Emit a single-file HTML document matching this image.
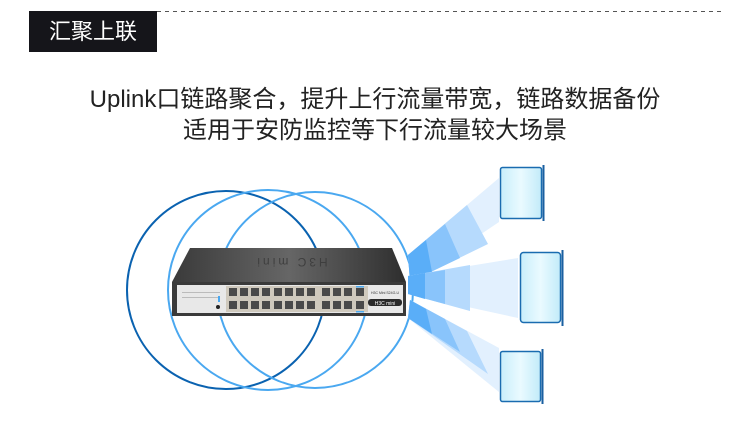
<!DOCTYPE html>
<html><head><meta charset="utf-8"><style>
body{margin:0;width:750px;height:442px;background:#fff;overflow:hidden;position:relative;font-family:"Liberation Sans","Noto Sans CJK SC",sans-serif}
.t{position:absolute;left:0;width:750px;text-align:center;font-size:24px;color:#222;line-height:30px}
</style></head><body>
<svg width="750" height="442" style="position:absolute;left:0;top:0">
<defs>
<linearGradient id="top" x1="0" y1="0" x2="1" y2="0"><stop offset="0" stop-color="#3a3a3a"/><stop offset="0.5" stop-color="#666"/><stop offset="1" stop-color="#2e2e2e"/></linearGradient>
<linearGradient id="scr" x1="0" y1="0" x2="1" y2="0"><stop offset="0" stop-color="#c8eefb"/><stop offset="0.5" stop-color="#eafaff"/><stop offset="1" stop-color="#c2ebf9"/></linearGradient>
</defs>
<rect x="29" y="11" width="128" height="41" fill="#15151a"/>
<line x1="157" y1="11.5" x2="722" y2="11.5" stroke="#555" stroke-dasharray="4,4"/>
<circle cx="226" cy="290" r="99" fill="none" stroke="#0a62b0" stroke-width="2"/>
<circle cx="268" cy="290" r="100" fill="none" stroke="#4aa8f0" stroke-width="2"/>
<circle cx="315" cy="290" r="98" fill="none" stroke="#4aa8f0" stroke-width="2"/>
<g>
<polygon points="408,255 499,178 499,222 410,282" fill="#e2f0fe"/>
<polygon points="408,255 467,205 488,244 410,282" fill="#b6dafd"/>
<polygon points="408,255 445,224 460,258 410,282" fill="#89c4fb"/>
<polygon points="408,255 426,240 432,272 410,282" fill="#5aaef8"/>
<polygon points="408,276 518,258 518,318 408,294" fill="#e2f0fe"/>
<polygon points="408,276 470,265 470,311 408,294" fill="#b6dafd"/>
<polygon points="408,276 445,270 445,304 408,294" fill="#89c4fb"/>
<polygon points="408,276 425,273 425,299 408,294" fill="#5aaef8"/>
<polygon points="410,300 499,348 499,392 408,318" fill="#e2f0fe"/>
<polygon points="410,300 467,331 488,374 408,318" fill="#b6dafd"/>
<polygon points="410,300 445,319 460,352 408,318" fill="#89c4fb"/>
<polygon points="410,300 426,309 432,334 408,318" fill="#5aaef8"/>
</g>
<rect x="500.5" y="167.5" width="41" height="51" rx="2" fill="url(#scr)" stroke="#1a6cb0" stroke-width="1.5"/>
<line x1="543.5" y1="165" x2="543.5" y2="221" stroke="#1a5fa0" stroke-width="2"/>
<rect x="520.5" y="252.5" width="40" height="70" rx="3" fill="url(#scr)" stroke="#1a6cb0" stroke-width="1.5"/>
<line x1="562.5" y1="250" x2="562.5" y2="326" stroke="#1a5fa0" stroke-width="2"/>
<rect x="500.5" y="351.5" width="40" height="50" rx="2" fill="url(#scr)" stroke="#1a6cb0" stroke-width="1.5"/>
<line x1="542.5" y1="349" x2="542.5" y2="404" stroke="#1a5fa0" stroke-width="2"/>
<polygon points="190,248 392,248 406,282 172,282" fill="url(#top)"/>
<text x="291" y="266" font-size="12" fill="#3e3e3e" text-anchor="middle" font-family="Liberation Sans" letter-spacing="3" transform="rotate(180 291 262)">H3C mini</text>
<rect x="172" y="282" width="234" height="34" fill="#3a3a3a"/>
<rect x="177" y="285" width="226" height="28" fill="#e8e8e8"/>
<rect x="226" y="286" width="142" height="26" fill="#cfc9bd"/>
<g fill="#4a4a4a">
<rect x="229" y="288" width="8" height="8"/><rect x="240" y="288" width="8" height="8"/><rect x="251" y="288" width="8" height="8"/><rect x="262" y="288" width="8" height="8"/>
<rect x="274" y="288" width="8" height="8"/><rect x="285" y="288" width="8" height="8"/><rect x="296" y="288" width="8" height="8"/><rect x="307" y="288" width="8" height="8"/>
<rect x="322" y="288" width="8" height="8"/><rect x="333" y="288" width="8" height="8"/><rect x="344" y="288" width="8" height="8"/><rect x="356" y="288" width="8" height="8"/>
<rect x="229" y="301" width="8" height="8"/><rect x="240" y="301" width="8" height="8"/><rect x="251" y="301" width="8" height="8"/><rect x="262" y="301" width="8" height="8"/>
<rect x="274" y="301" width="8" height="8"/><rect x="285" y="301" width="8" height="8"/><rect x="296" y="301" width="8" height="8"/><rect x="307" y="301" width="8" height="8"/>
<rect x="322" y="301" width="8" height="8"/><rect x="333" y="301" width="8" height="8"/><rect x="344" y="301" width="8" height="8"/><rect x="356" y="301" width="8" height="8"/>
</g>
<rect x="356" y="286" width="8" height="1.5" fill="#4aa8f0"/><rect x="356" y="311" width="8" height="1.5" fill="#4aa8f0"/>
<rect x="368" y="299" width="34" height="7" rx="3" fill="#2a2a2a"/>
<text x="385" y="305" font-size="5" fill="#fff" text-anchor="middle" font-family="Liberation Sans">H3C mini</text>
<text x="385" y="294" font-size="3.5" fill="#333" text-anchor="middle" font-family="Liberation Sans">H3C Mini S24G-U</text>
<g fill="#bbb"><rect x="182" y="292" width="38" height="1"/><rect x="182" y="297" width="38" height="1"/></g>
<rect x="218" y="296" width="2" height="6" fill="#4aa8f0"/>
<circle cx="218" cy="307" r="2" fill="#222"/>
</svg>
<div style="position:absolute;left:29px;top:11px;width:128px;height:41px;line-height:41px;text-align:center;color:#fff;font-size:22px;font-family:'Liberation Sans','Noto Sans CJK SC',sans-serif">汇聚上联</div>
<div class="t" style="top:85px">Uplink口链路聚合，提升上行流量带宽，链路数据备份</div>
<div class="t" style="top:116px">适用于安防监控等下行流量较大场景</div>
</body></html>
